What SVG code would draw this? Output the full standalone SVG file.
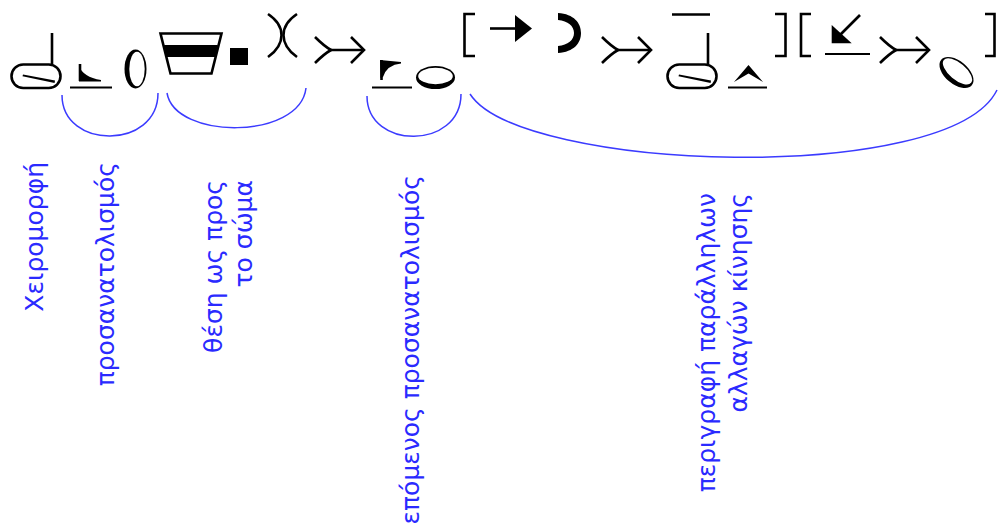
<svg xmlns="http://www.w3.org/2000/svg" xmlns:xlink="http://www.w3.org/1999/xlink" width="1004" height="523" viewBox="0 0 1004 523">
  <style>
    .ink { fill: none; stroke: #000; stroke-width: 2.6; stroke-linecap: butt; stroke-linejoin: miter; }
    .thin { fill: none; stroke: #000; stroke-width: 2.2; }
    .solid { fill: #000; stroke: none; }
    .paper { fill: #fff; stroke: none; }
    .brace { fill: none; stroke: #3b3bff; stroke-width: 1.5; }
    .label { font-family: "DejaVu Sans", "Noto Sans", sans-serif; font-size: 25px; fill: #2a2aff; text-anchor: end; }
  </style>
  <defs>
    <!-- flat hand: stem over a rounded palm with the thumb across -->
    <g id="hand">
      <line class="ink" x1="0" y1="0" x2="0" y2="31"/>
      <rect class="ink" x="-40.5" y="31.5" width="49" height="23.5" rx="11.7"/>
      <path class="solid" d="M-29 41.5 L3 47.5 L2.6 50 L-29.5 43.3 Z"/>
    </g>
    <!-- tail arrow: movement sequence -->
    <g id="seq">
      <path class="ink" d="M0 -13 Q9 -4 16 0 Q9 4 0 13"/>
      <line class="ink" x1="15" y1="0" x2="49" y2="0"/>
      <polyline class="ink" points="36,-13 49,0 36,13"/>
    </g>
  </defs>

  <!-- notation symbols -->
  <g id="handshape-1">
    <use xlink:href="#hand" x="52" y="33"/>
  </g>
  <g id="finger-direction-1">
    <line class="ink" x1="80" y1="64" x2="80" y2="81"/>
    <path class="solid" d="M79 66 Q83 77 101 80 L101 81.6 L79 81.6 Z"/>
    <line class="thin" x1="70" y1="87.5" x2="112" y2="87.5"/>
  </g>
  <g id="palm-1">
    <ellipse class="solid" cx="135.5" cy="69" rx="11" ry="19.5"/>
    <ellipse class="paper" cx="137" cy="69" rx="7.7" ry="17.2"/>
  </g>
  <g id="location-chest">
    <polygon class="ink" stroke-width="3" points="160.5,33.5 221.5,33.5 211.5,73.5 170.5,73.5"/>
    <polygon class="solid" points="164,45 218,45 215.2,57 166.8,57"/>
  </g>
  <g id="location-mark">
    <rect class="solid" x="230" y="48" width="18" height="17"/>
  </g>
  <g id="contact">
    <path class="ink" d="M268 14 C286 26 286 44 268 57"/>
    <path class="ink" d="M297 14 C279 26 279 44 297 57"/>
  </g>
  <g id="seq-1">
    <use xlink:href="#seq" x="315" y="50"/>
  </g>
  <g id="finger-direction-2">
    <line class="ink" x1="381.5" y1="60" x2="381.5" y2="80"/>
    <path class="solid" d="M380 60 L401 62 L401 63.6 Q387 65 383 77 L380.5 78 Z"/>
    <line class="thin" x1="372" y1="87.5" x2="412" y2="87.5"/>
  </g>
  <g id="palm-2">
    <ellipse class="solid" cx="435.5" cy="77.5" rx="19.5" ry="11.5"/>
    <ellipse class="paper" cx="435.5" cy="76" rx="17.3" ry="8.3"/>
  </g>
  <g id="bracket-open-1">
    <polyline class="ink" points="475,14 464.5,14 464.5,56 475,56"/>
  </g>
  <g id="move-straight">
    <line class="ink" stroke-width="3" x1="490" y1="28.5" x2="518" y2="28.5"/>
    <polygon class="solid" points="515,15 532,28.5 515,42"/>
  </g>
  <g id="move-arc">
    <path class="solid" d="M558 13 C574 14 581 23 581 33 C581 43 574 52 558 53 L558 46 C568 45 574 40 574 33 C574 26 568 21 558 20 Z"/>
  </g>
  <g id="seq-2">
    <use xlink:href="#seq" x="602" y="50"/>
  </g>
  <g id="handshape-2">
    <line class="ink" x1="672" y1="14.5" x2="710" y2="14.5"/>
    <use xlink:href="#hand" x="708" y="33"/>
  </g>
  <g id="finger-direction-3">
    <path class="solid" d="M734 82 L748.5 65 L763 82 L748.5 73.5 Z"/>
    <line class="thin" x1="728" y1="87.5" x2="767" y2="87.5"/>
  </g>
  <g id="bracket-close-1">
    <polyline class="ink" points="775,14 785.5,14 785.5,56 775,56"/>
  </g>
  <g id="bracket-open-2">
    <polyline class="ink" points="811,14 801,14 801,56 811,56"/>
  </g>
  <g id="move-diagonal">
    <line class="ink" stroke-width="3" x1="860" y1="15" x2="838" y2="37"/>
    <polygon class="solid" points="831.7,25 831.7,43.3 851.7,43.3"/>
    <line class="thin" x1="825" y1="54" x2="870" y2="54"/>
  </g>
  <g id="seq-3">
    <use xlink:href="#seq" x="880" y="50"/>
  </g>
  <g id="palm-3" transform="rotate(40 956.5 72.5)">
    <ellipse class="solid" cx="956.5" cy="72.5" rx="20" ry="11.5"/>
    <ellipse class="paper" cx="956.5" cy="71" rx="17.8" ry="8.3"/>
  </g>
  <g id="bracket-close-2">
    <polyline class="ink" points="985,14 994.5,14 994.5,56 985,56"/>
  </g>

  <!-- braces grouping the symbols -->
  <g id="connectors">
    <path class="brace" d="M62 95 C62 150 158 150 158 93"/>
    <path class="brace" d="M167 93 C175 140 300 140 306 88"/>
    <path class="brace" d="M367 96 C367 150 461 150 461 94"/>
    <path class="brace" d="M470 94 C520 172 950 186 997 90"/>
  </g>

  <!-- vertical captions -->
  <g id="label-handshape">
    <text class="label" transform="translate(43 162) rotate(-90)">Χειρομορφή</text>
  </g>
  <g id="label-orientation">
    <text class="label" transform="translate(114 162) rotate(-90)">προσανατολισμός</text>
  </g>
  <g id="label-location">
    <text class="label" transform="translate(222 180) rotate(-90)">θέση ως προς</text>
    <text class="label" transform="translate(252 180) rotate(-90)">το σώμα</text>
  </g>
  <g id="label-next-orientation">
    <text class="label" transform="translate(419 175) rotate(-90)">επόμενος προσανατολισμός</text>
  </g>
  <g id="label-movement">
    <text class="label" transform="translate(715 193) rotate(-90)">περιγραφή παράλληλων</text>
    <text class="label" transform="translate(747 193) rotate(-90)">αλλαγών κίνησης</text>
  </g>
</svg>
